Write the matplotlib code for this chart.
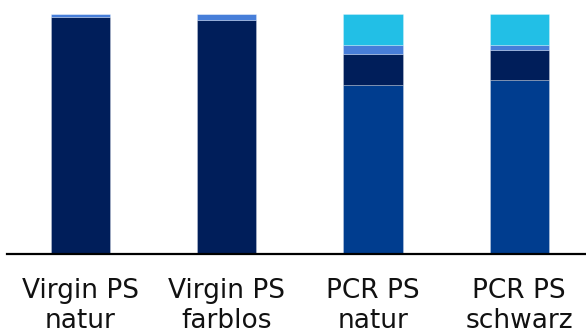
import matplotlib
matplotlib.use("Agg")
import matplotlib.pyplot as plt
import numpy as np

categories = ["Virgin PS\nnatur", "Virgin PS\nfarblos", "PCR PS\nnatur", "PCR PS\nschwarz"]

# Stacked shares (%) from bottom to top
share_blue = [0.0, 0.0, 70.5, 72.3]
share_navy = [98.8, 97.5, 12.8, 12.8]
share_light = [1.2, 2.5, 3.6, 1.8]
share_cyan = [0.0, 0.0, 13.1, 13.1]

series = [share_blue, share_navy, share_light, share_cyan]
colors = ["#003d8f", "#001e5a", "#477ed9", "#22bfe6"]

W, H = 586, 336
fig = plt.figure(figsize=(W / 100, H / 100), dpi=100)
ax = fig.add_axes([7 / W, 1 - 254 / H, (592.5 - 7) / W, (254 - 14) / H])

x = np.arange(len(categories))
bottom = np.zeros(len(categories))
for vals, col in zip(series, colors):
    vals = np.array(vals)
    ax.bar(x, vals, width=0.404, bottom=bottom, color=col,
           edgecolor=(1, 1, 1, 0.3), linewidth=0.6)
    bottom += vals

ax.set_xlim(-0.5, 3.5)
ax.set_ylim(0, 100)
ax.set_yticks([])
for s in ["left", "right", "top"]:
    ax.spines[s].set_visible(False)
ax.spines["bottom"].set_linewidth(1.6)
ax.spines["bottom"].set_color("black")
ax.spines["bottom"].set_zorder(5)

ax.set_xticks(x)
ax.set_xticklabels(categories, fontsize=19, family="DejaVu Sans",
                   color="#111111", linespacing=1.22)
ax.tick_params(axis="x", length=0, pad=17)

fig.savefig("out.png", dpi=100)
